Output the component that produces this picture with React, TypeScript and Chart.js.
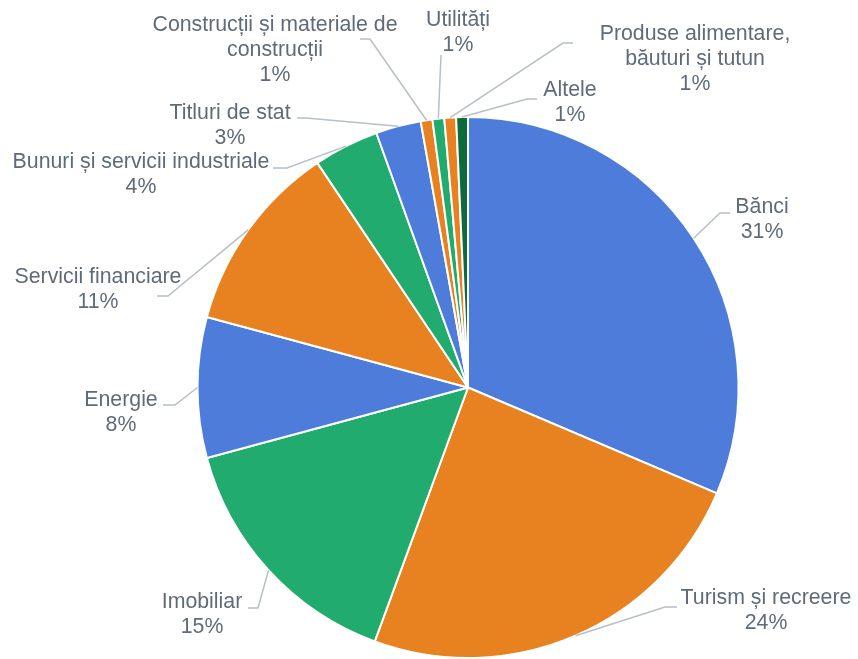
import React, { useEffect, useRef } from "react";
import { Chart, registerables } from "chart.js";

Chart.register(...registerables);

const categories = [
  "Bănci",
  "Turism și recreere",
  "Imobiliar",
  "Energie",
  "Servicii financiare",
  "Bunuri și servicii industriale",
  "Titluri de stat",
  "Construcții și materiale de construcții",
  "Utilități",
  "Produse alimentare, băuturi și tutun",
  "Altele",
];

const values = [31.4, 24.2, 15.2, 8.4, 11.4, 3.9, 2.7, 0.7, 0.7, 0.7, 0.7];

// label text lines (name split as in the picture)
const labelLines = [
  ["Bănci"],
  ["Turism și recreere"],
  ["Imobiliar"],
  ["Energie"],
  ["Servicii financiare"],
  ["Bunuri și servicii industriale"],
  ["Titluri de stat"],
  ["Construcții și materiale de", "construcții"],
  ["Utilități"],
  ["Produse alimentare,", "băuturi și tutun"],
  ["Altele"],
];

const BLUE = "#4E7CDB";
const ORANGE = "#E88220";
const GREEN = "#21AB6F";
const DARKGREEN = "#0D6B3B";
const colors = [BLUE, ORANGE, GREEN, BLUE, ORANGE, GREEN, BLUE, ORANGE, GREEN, ORANGE, DARKGREEN];

// label layout: [textCenterX, firstLineY, elbowX, elbowY, tailX]
const labelLayout = [
  [762, 207, 720, 213, 730],
  [766, 598, 665, 607, 677],
  [202, 602, 258, 608, 248],
  [121, 400, 175, 405, 163],
  [98, 277, 168, 296, 157],
  [141, 162, 287, 168, 273],
  [230, 113, 306, 118, 297],
  [275, 25, 370, 39, 360],
  [458, 20, 441, 55, 441],
  [695, 34, 563, 43, 573],
  [570, 90, 527, 99, 537],
];

const TEXT_COLOR = "#5F6B7A";
const LINE_COLOR = "#B7BFC7";

const labelPlugin = {
  id: "outerLabels",
  afterDraw(chart: any) {
    const ctx = chart.ctx;
    const meta = chart.getDatasetMeta(0);
    const data = chart.data.datasets[0].data as number[];
    const total = data.reduce((a: number, b: number) => a + b, 0);
    ctx.save();
    meta.data.forEach((arc: any, i: number) => {
      const p = arc.getProps(["x", "y", "startAngle", "endAngle", "outerRadius"], true);
      const mid = (p.startAngle + p.endAngle) / 2;
      const ax = p.x + Math.cos(mid) * p.outerRadius;
      const ay = p.y + Math.sin(mid) * p.outerRadius;
      const [tx, ty, ex, ey, tail] = labelLayout[i];
      ctx.strokeStyle = LINE_COLOR;
      ctx.lineWidth = 1.5;
      ctx.beginPath();
      ctx.moveTo(ax, ay);
      ctx.lineTo(ex, ey);
      ctx.lineTo(tail, ey);
      ctx.stroke();
      ctx.fillStyle = TEXT_COLOR;
      ctx.font = '21.3px "Liberation Sans", Arial, sans-serif';
      ctx.textAlign = "center";
      ctx.textBaseline = "middle";
      const lines = [...labelLines[i], Math.round((data[i] / total) * 100) + "%"];
      lines.forEach((t, k) => ctx.fillText(t, tx, ty + k * 25));
    });
    ctx.restore();
  },
};

export default function App() {
  const ref = useRef<HTMLCanvasElement>(null);
  useEffect(() => {
    if (!ref.current) return;
    const chart = new Chart(ref.current, {
      type: "pie",
      data: {
        labels: categories,
        datasets: [
          {
            data: values,
            backgroundColor: colors,
            borderColor: "#FFFFFF",
            borderWidth: 2,
          },
        ],
      },
      options: {
        responsive: false,
        animation: false,
        layout: { padding: { left: 196, right: 118, top: 116, bottom: 0 } },
        plugins: {
          legend: { display: false },
          tooltip: { enabled: false },
        },
      },
      plugins: [labelPlugin],
    });
    return () => chart.destroy();
  }, []);
  return (
    <div style={{ position: "fixed", left: 0, top: 0, width: 858, height: 659, background: "#fff" }}>
      <canvas ref={ref} width={858} height={659} />
    </div>
  );
}
